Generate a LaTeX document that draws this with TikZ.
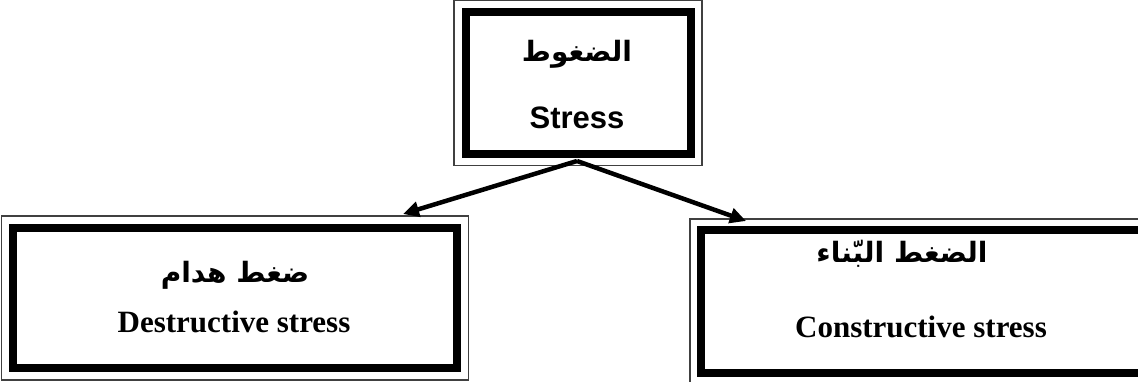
\documentclass[tikz,border=0pt]{standalone}
\usepackage{fontspec}
\setmainfont{Liberation Serif}
\newfontfamily\arialf{Liberation Sans}
\newfontfamily\arabicfont[Script=Arabic]{DejaVu Sans}
\TeXXeTstate=1
\usetikzlibrary{arrows.meta}
\tikzset{
  thickbox/.style={draw=black, line width=8pt, inner sep=0pt, fill=white},
  thinframe/.style={draw=black!75, line width=1.6pt},
  arabictxt/.style={font=\arabicfont\bfseries\fontsize{28}{30}\selectfont, anchor=base, inner sep=0pt},
  engserif/.style={font=\bfseries\fontsize{31}{34}\selectfont, anchor=base, inner sep=0pt},
  engsans/.style={font=\arialf\bfseries\fontsize{31}{34}\selectfont, anchor=base, inner sep=0pt},
  link/.style={line width=4.5pt, -{Triangle[length=16pt,width=15pt]}}
}
\begin{document}
\begin{tikzpicture}[x=1pt,y=-1pt]
\useasboundingbox (0,0) rectangle (1138,381);
% boxes
\node[thickbox, minimum width=225pt, minimum height=141.5pt] (top) at (578,82.75) {};
\draw[thinframe] ([shift={(-7.5,-7.5)}]top.north west) rectangle ([shift={(7.5,8)}]top.south east);
\node[thickbox, minimum width=444pt, minimum height=140.8pt] (left) at (235,297.9) {};
\draw[thinframe] ([shift={(-7.5,-7.5)}]left.north west) rectangle ([shift={(7.5,7.5)}]left.south east);
\node[thickbox, minimum width=441pt, minimum height=142.7pt] (right) at (921.5,301.35) {};
\draw[thinframe] ([shift={(-7,-7)}]right.north west) rectangle ([shift={(7,6.5)}]right.south east);
% texts
\node[arabictxt] (topar) at (577,61) {\beginR الضغوط\endR};
\node[engsans] (topen) at (577,128) {Stress};
\node[arabictxt] (leftar) at (235,282) {\beginR ضغط هدام\endR};
\node[engserif] (leften) at (234,332) {Destructive stress};
\node[arabictxt] (rightar) at (902,262) {\beginR الضغط البّناء\endR};
\node[engserif] (righten) at (921,337) {Constructive stress};
% connectors
\coordinate (src) at ([shift={(-1,3.5)}]top.south);
\coordinate (ltip) at (403,214);
\coordinate (rtip) at (746,221);
\draw[link] (src) -- (ltip);
\draw[link] (src) -- (rtip);
\end{tikzpicture}
\end{document}
